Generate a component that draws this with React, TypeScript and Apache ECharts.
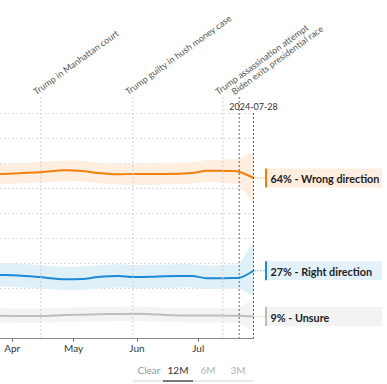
import React, { useEffect, useRef } from 'react';
import * as echarts from 'echarts';

// ---- data ----
const dates = [
  '2024-03-18', '2024-03-26', '2024-04-04', '2024-04-14', '2024-04-27', '2024-05-05',
  '2024-05-13', '2024-05-23', '2024-05-30', '2024-06-08', '2024-06-15', '2024-06-28',
  '2024-07-05', '2024-07-10', '2024-07-18', '2024-07-21', '2024-07-28',
];
const wrongValues = [65.4, 65.6, 65.9, 66.3, 67.1, 66.8, 66.0, 65.5, 65.6, 65.6, 65.6, 66.0, 66.9, 66.9, 66.8, 66.5, 64.0];
const wrongLow = [61.4, 61.5, 61.8, 62.2, 62.7, 62.6, 62.0, 61.3, 61.3, 61.3, 61.4, 61.8, 62.4, 62.3, 61.8, 61.4, 54.5];
const wrongHigh = [69.5, 69.6, 69.9, 70.4, 71.0, 70.9, 70.1, 69.7, 69.8, 69.9, 70.0, 70.3, 71.2, 71.3, 71.5, 71.7, 74.0];

const rightValues = [25.3, 25.2, 25.0, 24.4, 23.5, 23.6, 24.4, 24.8, 24.4, 24.5, 24.7, 24.8, 23.9, 23.9, 24.0, 24.1, 26.9];
const rightLow = [20.6, 20.5, 20.3, 19.8, 19.2, 19.2, 19.8, 20.2, 19.9, 20.0, 20.1, 20.2, 19.6, 19.6, 19.8, 19.9, 17.2];
const rightHigh = [30.0, 29.9, 29.7, 29.2, 28.5, 28.6, 29.2, 29.5, 29.2, 29.3, 29.4, 29.5, 29.0, 29.1, 29.4, 29.5, 37.9];

const unsureValues = [8.9, 8.9, 8.8, 8.8, 9.2, 9.3, 9.5, 9.6, 9.7, 9.5, 9.2, 9.0, 9.0, 9.0, 8.9, 8.9, 8.6];
const unsureLow = [6.2, 6.2, 6.1, 6.1, 6.4, 6.5, 6.6, 6.7, 6.8, 6.6, 6.4, 6.2, 6.2, 6.2, 6.1, 6.0, 3.2];
const unsureHigh = [11.9, 11.9, 11.8, 11.8, 12.1, 12.2, 12.4, 12.5, 12.6, 12.4, 12.1, 12.0, 12.0, 12.0, 12.0, 12.1, 15.2];

const seriesNames = ['Wrong direction', 'Right direction', 'Unsure'];
const seriesColors = ['#f47f0c', '#1c8ad4', '#bdbdbd'];
const bandColors = ['#fdeee0', '#e0f0f9', '#f3f3f3'];
const labelBgColors = ['#fdeee0', '#e3f1fa', '#f3f3f3'];

const eventDates = ['2024-04-15', '2024-05-30', '2024-07-13', '2024-07-21'];
const eventLabels = [
  'Trump in Manhattan court',
  'Trump guilty in hush money case',
  'Trump assassination attempt',
  'Biden exits presidential race',
];
const eventDark = [false, false, false, true];
const cursorDate = '2024-07-28';

const monthTicks = ['2024-04-01', '2024-05-01', '2024-06-01', '2024-07-01'];
const monthLabels = ['Apr', 'May', 'Jun', 'Jul'];
const rangeButtons = ['Clear', '12M', '6M', '3M'];
const activeRange = '12M';

const xMin = '2024-03-26';
const xMax = '2024-07-28';
const yMin = 0;
const yMax = 90;
const yInterval = 10;

const ts = (d: string) => new Date(d + 'T00:00:00Z').getTime();
const FONT = 'Lato, "Open Sans", sans-serif';

export default function App() {
  const ref = useRef<HTMLDivElement>(null);
  useEffect(() => {
    if (!ref.current) return;
    const chart = echarts.init(ref.current, undefined, { renderer: 'svg' });
    const allValues = [wrongValues, rightValues, unsureValues];
    const allLow = [wrongLow, rightLow, unsureLow];
    const allHigh = [wrongHigh, rightHigh, unsureHigh];
    const series: any[] = [];
    // uncertainty bands
    series.push({
      type: 'custom',
      name: 'bands',
      clip: true,
      silent: true,
      z: 1,
      encode: { x: 0, y: 1 },
      data: allValues.map((v, i) => [ts(dates[0]), allLow[i][0], i]),
      renderItem: (params: any, api: any) => {
        const i = api.value(2);
        const upper = dates.map((d, k) => api.coord([ts(d), allHigh[i][k]]));
        const lower = dates.map((d, k) => api.coord([ts(d), allLow[i][k]])).reverse();
        return {
          type: 'polygon',
          shape: { points: upper.concat(lower), smooth: 0.25 },
          style: { fill: bandColors[i] },
        };
      },
    });
    allValues.forEach((vals, i) => {
      series.push({
        type: 'line',
        name: seriesNames[i],
        data: dates.map((d, k) => [ts(d), vals[k]]),
        symbol: 'none',
        smooth: 0.3,
        lineStyle: { color: seriesColors[i], width: 2 },
        z: 3,
      });
    });
    // event lines and labels
    series.push({
      type: 'custom',
      name: 'events',
      clip: false,
      silent: true,
      z: 4,
      encode: { x: 0, y: 1 },
      data: eventDates.map((d, i) => [ts(d), yMin, i]),
      renderItem: (params: any, api: any) => {
        const idx = api.value(2);
        const p0 = api.coord([api.value(0), yMin]);
        const pTop = api.coord([api.value(0), yMax]);
        const top = pTop[1] - 16;
        const dark = eventDark[idx];
        return {
          type: 'group',
          children: [
            {
              type: 'line',
              shape: { x1: p0[0], y1: top, x2: p0[0], y2: p0[1] },
              style: { stroke: dark ? '#666' : '#cfcfcf', lineWidth: 1, lineDash: [2, 2] },
            },
            {
              type: 'text',
              x: p0[0] - 4,
              y: top - 1,
              rotation: (36 * Math.PI) / 180,
              style: {
                text: eventLabels[idx],
                fill: '#555',
                font: '9px ' + FONT,
                align: 'left',
                verticalAlign: 'bottom',
              },
            },
          ],
        };
      },
    });
    // cursor line
    series.push({
      type: 'custom',
      name: 'cursor',
      clip: false,
      silent: true,
      z: 4,
      encode: { x: 0, y: 1 },
      data: [[ts(cursorDate), yMin]],
      renderItem: (params: any, api: any) => {
        const p0 = api.coord([api.value(0), yMin]);
        const pTop = api.coord([api.value(0), yMax]);
        return {
          type: 'group',
          children: [
            {
              type: 'line',
              shape: { x1: p0[0], y1: pTop[1], x2: p0[0], y2: p0[1] },
              style: { stroke: '#555', lineWidth: 1, lineDash: [2, 2] },
            },
            {
              type: 'text',
              x: p0[0],
              y: pTop[1] - 7,
              style: {
                text: cursorDate,
                fill: '#333',
                font: '9px ' + FONT,
                align: 'center',
                verticalAlign: 'middle',
              },
            },
          ],
        };
      },
    });
    // end labels
    series.push({
      type: 'custom',
      name: 'endLabels',
      clip: false,
      silent: true,
      z: 5,
      encode: { x: 0, y: 1 },
      data: allValues.map((vals, i) => [ts(dates[dates.length - 1]), vals[vals.length - 1], i]),
      renderItem: (params: any, api: any) => {
        const i = api.value(2);
        const v = api.value(1);
        const p = api.coord([api.value(0), v]);
        return {
          type: 'group',
          children: [
            {
              type: 'line',
              shape: { x1: p[0] + 1, y1: p[1], x2: p[0] + 11, y2: p[1] },
              style: { stroke: seriesColors[i], lineWidth: 1, lineDash: [1, 2] },
            },
            {
              type: 'rect',
              shape: { x: p[0] + 13.5, y: p[1] - 9.5, width: 115, height: 19 },
              style: { fill: labelBgColors[i] },
            },
            {
              type: 'rect',
              shape: { x: p[0] + 11.5, y: p[1] - 9.5, width: 2, height: 19 },
              style: { fill: seriesColors[i] },
            },
            {
              type: 'text',
              x: p[0] + 17,
              y: p[1] + 0.5,
              style: {
                text: Math.round(v) + '% - ' + seriesNames[i],
                fill: '#222',
                font: 'bold 10.8px ' + FONT,
                align: 'left',
                verticalAlign: 'middle',
              },
            },
          ],
        };
      },
    });

    const btnX = [149, 178, 208, 238];
    const graphic: any[] = [
      { type: 'line', shape: { x1: 133, y1: 381, x2: 253, y2: 381 }, style: { stroke: '#d0d0d0', lineWidth: 1 } },
    ];
    rangeButtons.forEach((b, i) => {
      const active = b === activeRange;
      graphic.push({
        type: 'text',
        x: btnX[i],
        y: 370,
        style: {
          text: b,
          fill: active ? '#333' : i === 0 ? '#8c99a6' : '#b3b3b3',
          font: '10px ' + FONT,
          align: 'center',
          verticalAlign: 'middle',
        },
      });
      if (active) {
        graphic.push({
          type: 'line',
          shape: { x1: btnX[i] - 15, y1: 381, x2: btnX[i] + 15, y2: 381 },
          style: { stroke: '#555', lineWidth: 1.5 },
        });
      }
    });

    chart.setOption({
      animation: false,
      textStyle: { fontFamily: FONT },
      grid: { left: 0, right: 133.5, top: 113, bottom: 46, containLabel: false },
      xAxis: {
        type: 'value',
        min: ts(xMin),
        max: ts(xMax),
        splitLine: { show: false },
        axisLine: { show: true, lineStyle: { color: '#888', width: 1 } },
        axisTick: {
          show: true,
          length: 4,
          lineStyle: { color: '#777' },
          customValues: monthTicks.map(ts),
        },
        axisLabel: {
          color: '#333',
          fontSize: 10,
          fontFamily: FONT,
          margin: 5,
          customValues: monthTicks.map(ts),
          formatter: (v: number) => {
            const k = monthTicks.map(ts).indexOf(v);
            return k >= 0 ? monthLabels[k] : '';
          },
        },
      },
      yAxis: {
        type: 'value',
        min: yMin,
        max: yMax,
        interval: yInterval,
        axisLine: { show: false },
        axisTick: { show: false },
        axisLabel: { show: false },
        splitLine: { show: true, lineStyle: { color: '#dddddd', type: [2, 2], width: 1 } },
      },
      series,
      graphic,
    });
    return () => chart.dispose();
  }, []);
  return (
    <div
      ref={ref}
      style={{ position: 'fixed', left: 0, top: 0, width: 387, height: 384, background: '#fff' }}
    />
  );
}
